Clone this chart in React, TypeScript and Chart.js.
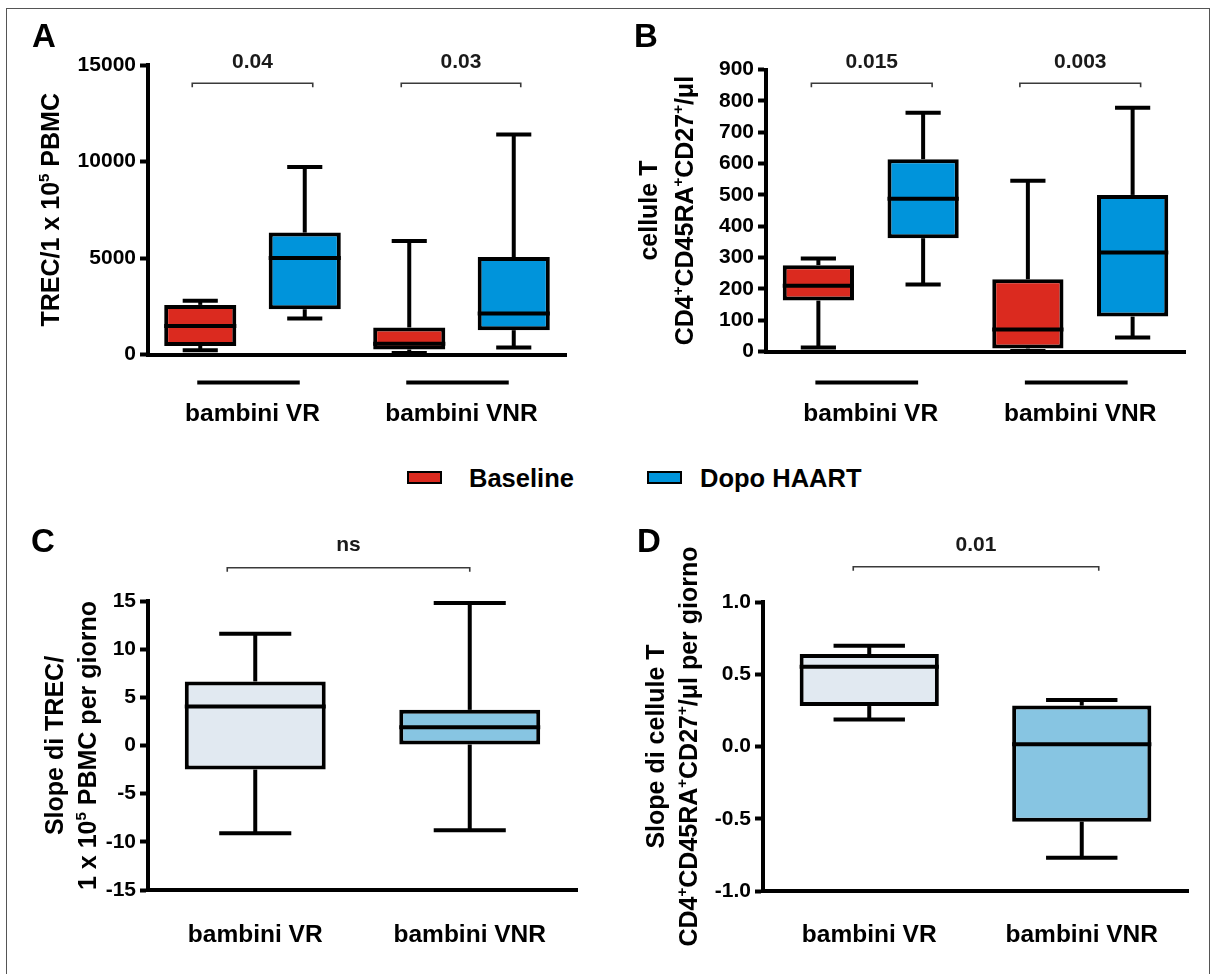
import React, { useEffect, useRef } from 'react';
import { Chart, registerables } from 'chart.js';

Chart.register(...registerables);

const FONT = "'Liberation Sans', Arial, Helvetica, sans-serif";
Chart.defaults.font.family = FONT;
Chart.defaults.color = '#000';

// ---------- categories ----------
const groupLabels = ['bambini VR', 'bambini VNR'];
const phaseLabels = ['Baseline', 'Dopo HAART'];
const boxLabelsAB = ['VR Baseline', 'VR Dopo HAART', 'VNR Baseline', 'VNR Dopo HAART'];

// ---------- Panel A: TREC / 1 x 10^5 PBMC ----------
const trecMin = [220, 1860, 80, 360];
const trecQ1 = [445, 2345, 260, 1260];
const trecMedian = [1480, 5000, 560, 2120];
const trecQ3 = [2570, 6315, 1400, 5050];
const trecMax = [2780, 9720, 5880, 11400];
const trecTicks = [0, 5000, 10000, 15000];
const trecP = ['0.04', '0.03'];

// ---------- Panel B: CD4+CD45RA+CD27+ cells/ul ----------
const cellMin = [13, 214, 2, 45];
const cellQ1 = [163, 362, 10, 112];
const cellMedian = [210, 488, 71, 316];
const cellQ3 = [276, 614, 231, 500];
const cellMax = [297, 762, 545, 778];
const cellTicks = [0, 100, 200, 300, 400, 500, 600, 700, 800, 900];
const cellP = ['0.015', '0.003'];

// ---------- Panel C: slope of TREC ----------
const slopeTrecMin = [-9.1, -8.8];
const slopeTrecQ1 = [-2.5, 0.1];
const slopeTrecMedian = [4.05, 1.9];
const slopeTrecQ3 = [6.65, 3.7];
const slopeTrecMax = [11.6, 14.8];
const slopeTrecTicks = [-15, -10, -5, 0, 5, 10, 15];
const slopeTrecP = ['ns'];

// ---------- Panel D: slope of cells ----------
const slopeCellMin = [0.186, -0.77];
const slopeCellQ1 = [0.28, -0.52];
const slopeCellMedian = [0.552, 0.015];
const slopeCellQ3 = [0.64, 0.283];
const slopeCellMax = [0.697, 0.322];
const slopeCellTicks = [-1, -0.5, 0, 0.5, 1];
const slopeCellP = ['0.01'];

// ---------- colours ----------
const RED = '#DB2A1F';
const BLUE = '#0094DB';
const LIGHT = '#E1E9F1';
const SKY = '#87C5E2';

type Part = [string, boolean?];
type Bracket = { from: number; to: number; dx1: number; dx2: number; y: number; ty: number; text: string };
type Panel = {
  key: string;
  letter: string;
  letterX: number;
  letterY: number;
  left: number;
  top: number;
  width: number;
  height: number;
  area: { left: number; right: number; top: number; bottom: number };
  labels: string[];
  groups?: string[];
  labelPad: number;
  mins: number[];
  q1s: number[];
  medians: number[];
  q3s: number[];
  maxs: number[];
  colors: string[];
  yMin: number;
  yMax: number;
  yTicks: number[];
  fmt: (v: number) => string;
  title: { parts: Part[]; x: number }[];
  brackets: Bracket[];
  barPct: number;
  underlineY?: number;
};

const panels: Panel[] = [
  {
    key: 'A', letter: 'A', letterX: 44, letterY: 47,
    left: 0, top: 0, width: 600, height: 460,
    area: { left: 148, right: 566, top: 65, bottom: 354.5 },
    labels: boxLabelsAB, groups: groupLabels, labelPad: 45,
    mins: trecMin, q1s: trecQ1, medians: trecMedian, q3s: trecQ3, maxs: trecMax,
    colors: [RED, BLUE, RED, BLUE],
    yMin: 0, yMax: 15000, yTicks: trecTicks, fmt: (v) => String(v),
    title: [{ parts: [['TREC/1 x 10'], ['5', true], [' PBMC']], x: 50 }],
    brackets: [
      { from: 0, to: 1, dx1: -8, dx2: 8, y: 83.3, ty: 62.5, text: trecP[0] },
      { from: 2, to: 3, dx1: -8, dx2: 7, y: 83.3, ty: 62.5, text: trecP[1] },
    ],
    barPct: 0.69, underlineY: 382.5,
  },
  {
    key: 'B', letter: 'B', letterX: 46, letterY: 47,
    left: 600, top: 0, width: 613, height: 460,
    area: { left: 166, right: 585, top: 69.5, bottom: 351.7 },
    labels: boxLabelsAB, groups: groupLabels, labelPad: 48,
    mins: cellMin, q1s: cellQ1, medians: cellMedian, q3s: cellQ3, maxs: cellMax,
    colors: [RED, BLUE, RED, BLUE],
    yMin: 0, yMax: 900, yTicks: cellTicks, fmt: (v) => String(v),
    title: [
      { parts: [['cellule T']], x: 48 },
      { parts: [['CD4'], ['+', true], ['CD45RA'], ['+', true], ['CD27'], ['+', true], ['/\u03bcl']], x: 84 },
    ],
    brackets: [
      { from: 0, to: 1, dx1: -7, dx2: 9, y: 83.3, ty: 62.7, text: cellP[0] },
      { from: 2, to: 3, dx1: -8, dx2: 8, y: 83.3, ty: 62.7, text: cellP[1] },
    ],
    barPct: 0.68, underlineY: 382.5,
  },
  {
    key: 'C', letter: 'C', letterX: 43, letterY: 52,
    left: 0, top: 500, width: 600, height: 474,
    area: { left: 148, right: 577, top: 101, bottom: 390 },
    labels: groupLabels, labelPad: 30.6,
    mins: slopeTrecMin, q1s: slopeTrecQ1, medians: slopeTrecMedian, q3s: slopeTrecQ3, maxs: slopeTrecMax,
    colors: [LIGHT, SKY],
    yMin: -15, yMax: 15, yTicks: slopeTrecTicks, fmt: (v) => String(v),
    title: [
      { parts: [['Slope di TREC/']], x: 54 },
      { parts: [['1 x 10'], ['5', true], [' PBMC per giorno']], x: 87 },
    ],
    brackets: [{ from: 0, to: 1, dx1: -28, dx2: 0, y: 67.7, ty: 45, text: slopeTrecP[0] }],
    barPct: 0.657,
  },
  {
    key: 'D', letter: 'D', letterX: 49, letterY: 52,
    left: 600, top: 500, width: 613, height: 474,
    area: { left: 163, right: 588, top: 102, bottom: 391 },
    labels: groupLabels, labelPad: 29.6,
    mins: slopeCellMin, q1s: slopeCellQ1, medians: slopeCellMedian, q3s: slopeCellQ3, maxs: slopeCellMax,
    colors: [LIGHT, SKY],
    yMin: -1, yMax: 1, yTicks: slopeCellTicks, fmt: (v) => v.toFixed(1),
    title: [
      { parts: [['Slope di cellule T']], x: 55 },
      { parts: [['CD4'], ['+', true], ['CD45RA'], ['+', true], ['CD27'], ['+', true], ['/\u03bcl per giorno']], x: 88 },
    ],
    brackets: [{ from: 0, to: 1, dx1: -16, dx2: 17, y: 66.7, ty: 45, text: slopeCellP[0] }],
    barPct: 0.655,
  },
];

const TITLE_SIZE = 25;
const TICK_SIZE = 21;
const LABEL_SIZE = 24.5;
const LINE_W = 4;

function drawRotated(ctx: CanvasRenderingContext2D, parts: Part[], cx: number, cy: number, size: number) {
  ctx.save();
  ctx.translate(cx, cy);
  ctx.rotate(-Math.PI / 2);
  const big = `bold ${size}px ${FONT}`;
  const small = `bold ${Math.round(size * 0.6)}px ${FONT}`;
  let total = 0;
  const widths = parts.map(([t, sup]) => {
    ctx.font = sup ? small : big;
    const w = ctx.measureText(t).width;
    total += w;
    return w;
  });
  let x = -total / 2;
  ctx.textAlign = 'left';
  ctx.textBaseline = 'alphabetic';
  ctx.fillStyle = '#000';
  const base = size * 0.358;
  parts.forEach(([t, sup], i) => {
    ctx.font = sup ? small : big;
    ctx.fillText(t, x, base - (sup ? size * 0.4 : 0));
    x += widths[i];
  });
  ctx.restore();
}

function makePlugin(p: Panel) {
  return {
    id: 'boxDecor' + p.key,
    afterDatasetsDraw(chart: any) {
      const ctx: CanvasRenderingContext2D = chart.ctx;
      const xs = chart.scales.x;
      const ys = chart.scales.y;
      const meta = chart.getDatasetMeta(0);
      const slot = xs.width / p.labels.length;
      const capHalf = slot * 0.168;
      ctx.save();
      ctx.strokeStyle = '#000';
      ctx.lineWidth = LINE_W;
      ctx.lineCap = 'butt';
      const seg = (x1: number, y1: number, x2: number, y2: number) => {
        ctx.beginPath();
        ctx.moveTo(x1, y1);
        ctx.lineTo(x2, y2);
        ctx.stroke();
      };
      p.medians.forEach((m, i) => {
        const bar = meta.data[i];
        const { x, width } = bar.getProps(['x', 'width'], true);
        const yMax = ys.getPixelForValue(p.maxs[i]);
        const yQ3 = ys.getPixelForValue(p.q3s[i]);
        const yQ1 = ys.getPixelForValue(p.q1s[i]);
        const yMin = ys.getPixelForValue(p.mins[i]);
        const yMed = ys.getPixelForValue(m);
        seg(x, yQ3, x, yMax);
        seg(x - capHalf, yMax, x + capHalf, yMax);
        seg(x, yQ1, x, yMin);
        seg(x - capHalf, yMin, x + capHalf, yMin);
        seg(x - width / 2, yMed, x + width / 2, yMed);
      });
      ctx.restore();
    },
    afterDraw(chart: any) {
      const ctx: CanvasRenderingContext2D = chart.ctx;
      const xs = chart.scales.x;
      const area = chart.chartArea;
      ctx.save();
      // panel letter
      ctx.fillStyle = '#000';
      ctx.font = `bold 33px ${FONT}`;
      ctx.textAlign = 'center';
      ctx.textBaseline = 'alphabetic';
      ctx.fillText(p.letter, p.letterX, p.letterY);
      // significance brackets
      p.brackets.forEach((b) => {
        const x1 = xs.getPixelForValue(b.from) + b.dx1;
        const x2 = xs.getPixelForValue(b.to) + b.dx2;
        ctx.strokeStyle = '#3a3a3a';
        ctx.lineWidth = 1.6;
        ctx.beginPath();
        ctx.moveTo(x1, b.y + 4);
        ctx.lineTo(x1, b.y);
        ctx.lineTo(x2, b.y);
        ctx.lineTo(x2, b.y + 4);
        ctx.stroke();
        ctx.fillStyle = '#1a1a1a';
        ctx.font = `bold ${TICK_SIZE}px ${FONT}`;
        ctx.textAlign = 'center';
        ctx.textBaseline = 'middle';
        ctx.fillText(b.text, (x1 + x2) / 2, b.ty);
      });
      // group underlines
      if (p.underlineY !== undefined && p.groups) {
        ctx.strokeStyle = '#000';
        ctx.lineWidth = LINE_W;
        for (let g = 0; g < p.groups.length; g++) {
          const a = xs.getPixelForValue(g * 2) - 3;
          const c = xs.getPixelForValue(g * 2 + 1) - 5;
          ctx.beginPath();
          ctx.moveTo(a, p.underlineY);
          ctx.lineTo(c, p.underlineY);
          ctx.stroke();
        }
      }
      // y axis title
      const cy = (area.top + area.bottom) / 2;
      p.title.forEach((line) => drawRotated(ctx, line.parts, line.x, cy, TITLE_SIZE));
      ctx.restore();
    },
  };
}

function buildConfig(p: Panel): any {
  const tickFont = { family: FONT, size: TICK_SIZE, weight: 'bold' as const };
  const labelFont = { family: FONT, size: LABEL_SIZE, weight: 'bold' as const };
  const hasGroups = !!p.groups;
  const scales: any = {
    x: {
      type: 'category',
      position: 'bottom',
      weight: 0,
      offset: true,
      grid: { display: false, drawTicks: false },
      border: { display: true, color: '#000', width: LINE_W },
      ticks: hasGroups
        ? { display: false }
        : { display: true, font: labelFont, color: '#000', padding: p.labelPad, maxRotation: 0, autoSkip: false },
      afterFit: (s: any) => {
        s.height = hasGroups ? 0 : p.height - p.area.bottom;
      },
    },
    y: {
      type: 'linear',
      min: p.yMin,
      max: p.yMax,
      afterBuildTicks: (s: any) => {
        s.ticks = p.yTicks.map((v) => ({ value: v }));
      },
      grid: {
        display: true,
        drawOnChartArea: false,
        drawTicks: true,
        tickLength: 8,
        tickWidth: LINE_W,
        tickColor: '#000',
        color: '#000',
      },
      border: { display: true, color: '#000', width: LINE_W },
      ticks: {
        font: tickFont,
        color: '#000',
        padding: 4,
        callback: (v: any) => p.fmt(Number(v)),
      },
      afterFit: (s: any) => {
        s.width = p.area.left;
      },
    },
  };
  if (hasGroups) {
    scales.x2 = {
      type: 'category',
      labels: p.groups,
      position: 'bottom',
      weight: 1,
      offset: true,
      grid: { display: false, drawTicks: false },
      border: { display: false },
      ticks: { display: true, font: labelFont, color: '#000', padding: p.labelPad, maxRotation: 0, autoSkip: false },
      afterFit: (s: any) => {
        s.height = p.height - p.area.bottom;
      },
    };
  }
  return {
    type: 'bar',
    data: {
      labels: p.labels,
      datasets: [
        {
          label: hasGroups ? phaseLabels.join(' / ') : 'slope',
          data: p.q1s.map((q, i) => [q, p.q3s[i]]),
          backgroundColor: p.colors,
          borderColor: '#000',
          borderWidth: LINE_W,
          borderSkipped: false,
          barPercentage: p.barPct,
          categoryPercentage: 1,
          clip: false,
        },
      ],
    },
    options: {
      animation: false,
      responsive: false,
      maintainAspectRatio: false,
      devicePixelRatio: 1,
      events: [],
      layout: {
        padding: { left: 0, top: p.area.top, right: p.width - p.area.right, bottom: 0 },
      },
      plugins: {
        legend: { display: false },
        tooltip: { enabled: false },
        title: { display: false },
      },
      scales,
    },
    plugins: [makePlugin(p)],
  };
}

function PanelChart({ p }: { p: Panel }) {
  const ref = useRef<HTMLCanvasElement>(null);
  useEffect(() => {
    if (!ref.current) return;
    const chart = new Chart(ref.current, buildConfig(p));
    return () => chart.destroy();
  }, [p]);
  return (
    <canvas
      ref={ref}
      width={p.width}
      height={p.height}
      style={{ position: 'absolute', left: p.left, top: p.top, width: p.width, height: p.height }}
    />
  );
}

const legendItems = [
  { label: phaseLabels[0], color: RED, swatchX: 407, textX: 469 },
  { label: phaseLabels[1], color: BLUE, swatchX: 647, textX: 700 },
];

export default function App() {
  return (
    <div
      style={{
        position: 'fixed',
        left: 0,
        top: 0,
        width: 1213,
        height: 974,
        overflow: 'hidden',
        background: '#fff',
        fontFamily: FONT,
      }}
    >
      <div
        style={{
          position: 'absolute',
          left: 6,
          top: 8,
          width: 1204,
          height: 1000,
          border: '1.5px solid #555',
          boxSizing: 'border-box',
        }}
      />
      {panels.map((p) => (
        <PanelChart key={p.key} p={p} />
      ))}
      {legendItems.map((it) => (
        <React.Fragment key={it.label}>
          <div
            style={{
              position: 'absolute',
              left: it.swatchX,
              top: 471,
              width: 35,
              height: 13,
              background: it.color,
              border: '2px solid #000',
              boxSizing: 'border-box',
            }}
          />
          <div
            style={{
              position: 'absolute',
              left: it.textX,
              top: 463,
              height: 30,
              lineHeight: '30px',
              fontSize: 25.5,
              fontWeight: 'bold',
              color: '#000',
              whiteSpace: 'nowrap',
            }}
          >
            {it.label}
          </div>
        </React.Fragment>
      ))}
    </div>
  );
}
